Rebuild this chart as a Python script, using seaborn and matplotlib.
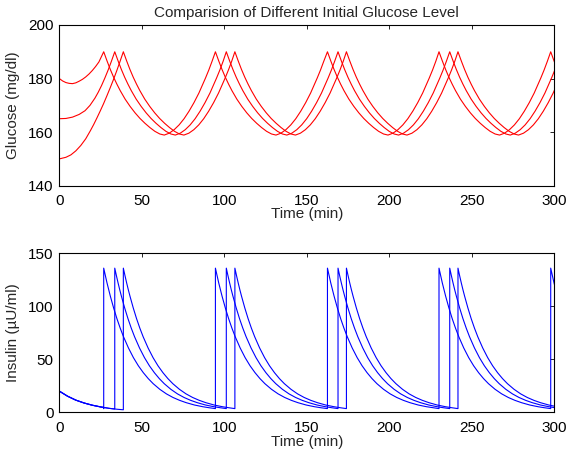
import numpy as np
import pandas as pd
import matplotlib
matplotlib.use('Agg')
import matplotlib.pyplot as plt
import seaborn as sns

# glucose: one repeating cycle (minutes after a peak, mg/dl)
cycle_u = [0, 2, 4, 6, 8, 10, 13, 16, 19, 22, 25, 28, 31, 34, 36.7,
           39.7, 42.7, 45.7, 48.7, 51.7, 54.7, 57.7, 59.7, 61.7, 63.7, 65.7]
cycle_glucose = [190.0, 186.6, 183.4, 180.5, 177.9, 175.5, 172.3, 169.6, 167.2,
                 165.1, 163.3, 161.7, 160.3, 159.3, 158.9, 159.6, 160.9, 162.7,
                 165.0, 167.8, 171.0, 174.6, 177.4, 180.2, 183.2, 186.5]

# insulin: one cycle (foot of the jump, then decay)
ins_u = [0, 0, 1, 2, 3, 4, 6, 8, 10, 12, 15, 18, 21, 24, 27, 30, 34, 38,
         42, 46, 50, 55, 60, 64, 67.7]
ins_cycle = [3.5, 136.0, 128.9, 122.1, 115.7, 109.7, 98.5, 88.4, 79.4, 71.3,
             60.7, 51.6, 43.9, 37.4, 31.8, 27.0, 21.7, 17.4, 14.0, 11.3, 9.1,
             6.9, 5.3, 4.3, 3.5]

# start of each run, before the first peak
t_start_a = [0, 2, 4, 6, 8, 10, 12, 14, 16, 18, 20, 22, 24, 26]
g_start_a = [180.0, 179.1, 178.5, 178.2, 178.1, 178.4, 179.0, 179.7, 180.6,
             181.7, 183.0, 184.5, 186.2, 188.8]
t_start_b = [0, 4, 8, 12, 15.6, 18.6, 21.6, 23.6, 25.6, 27.6, 29.6, 31.6]
g_start_b = [165.0, 165.1, 165.6, 166.6, 168.0, 170.0, 172.7, 174.9, 177.4,
             180.2, 183.2, 186.5]
t_start_c = [0, 4, 7, 10, 13, 16, 18.8, 20.8, 22.8, 24.8, 26.8, 28.8, 30.8,
             32.8, 34.8, 36.8]
g_start_c = [150.0, 150.6, 151.5, 153.0, 155.0, 157.5, 160.5, 162.8, 165.3,
             167.9, 170.6, 173.5, 176.5, 179.6, 182.9, 186.4]

ti_start_a = [0, 5, 10, 15, 20, 25, 26.9]
i_start_a = [20.0, 15.2, 11.5, 8.8, 6.7, 5.1, 4.5]
ti_start_b = [0, 5, 10, 15, 20, 25, 30, 33.6]
i_start_b = [20.0, 15.2, 11.5, 8.8, 6.7, 5.1, 3.8, 3.1]
ti_start_c = [0, 5, 10, 15, 20, 25, 30, 35, 38.8]
i_start_c = [20.0, 15.2, 11.5, 8.8, 6.7, 5.1, 3.8, 2.9, 2.4]

# times of the insulin doses (glucose hits 190)
peaks_a = [26.9, 94.6, 162.5, 230.1, 297.8]
peaks_b = [33.6, 101.2, 168.9, 236.6]
peaks_c = [38.8, 106.4, 174.0, 241.6]


def build_curve(t_init, v_init, peaks, cyc_u, cyc_v):
    t_out = list(t_init)
    v_out = list(v_init)
    for i, tp in enumerate(peaks):
        gap = peaks[i + 1] - tp if i + 1 < len(peaks) else np.inf
        for u, v in zip(cyc_u, cyc_v):
            if u < gap:
                t_out.append(tp + u)
                v_out.append(v)
    return pd.DataFrame({'time': t_out, 'value': v_out})


glucose_runs = [build_curve(t_start_a, g_start_a, peaks_a, cycle_u, cycle_glucose),
                build_curve(t_start_b, g_start_b, peaks_b, cycle_u, cycle_glucose),
                build_curve(t_start_c, g_start_c, peaks_c, cycle_u, cycle_glucose)]
insulin_runs = [build_curve(ti_start_a, i_start_a, peaks_a, ins_u, ins_cycle),
                build_curve(ti_start_b, i_start_b, peaks_b, ins_u, ins_cycle),
                build_curve(ti_start_c, i_start_c, peaks_c, ins_u, ins_cycle)]

sns.set_theme(style='white')
plt.rcParams['font.family'] = ['Liberation Sans', 'DejaVu Sans']
plt.rcParams['font.size'] = 10

fig = plt.figure(figsize=(5.66, 4.55), dpi=100)
ax1 = fig.add_axes([0.1048, 0.5919, 0.8746, 0.3532])
ax2 = fig.add_axes([0.1048, 0.0938, 0.8746, 0.3495])

for df in glucose_runs:
    sns.lineplot(data=df, x='time', y='value', ax=ax1, color=(1, 0, 0),
                 lw=0.8, estimator=None, sort=False)
for df in insulin_runs:
    sns.lineplot(data=df, x='time', y='value', ax=ax2, color=(0, 0, 1),
                 lw=0.8, estimator=None, sort=False)

ax1.set_xlim(0, 300)
ax1.set_ylim(140, 200)
ax1.set_yticks([140, 160, 180, 200])
ax2.set_xlim(0, 300)
ax2.set_ylim(0, 150)
ax2.set_yticks([0, 50, 100, 150])

for ax in (ax1, ax2):
    ax.set_xticks([0, 50, 100, 150, 200, 250, 300])
    ax.tick_params(direction='in', length=3, width=0.6, top=True, right=True,
                   labelsize=11, colors='black', pad=4)
    ax.tick_params(axis='x', pad=6)
    for sp in ax.spines.values():
        sp.set_visible(True)
        sp.set_color('black')
        sp.set_linewidth(0.8)
    ax.set_xlabel('Time (min)', fontsize=11)
    ax.xaxis.set_label_coords(0.5, -0.13)
    ax.xaxis.label.set_va('top')

ax1.set_ylabel('Glucose (mg/dl)', fontsize=11)
ax2.set_ylabel('Insulin (\u00b5U/ml)', fontsize=11)
ax1.yaxis.set_label_coords(-0.079, 0.5)
ax2.yaxis.set_label_coords(-0.079, 0.5)
ax2.xaxis.set_label_coords(0.5, -0.145)
ax1.set_title('Comparision of Different Initial Glucose Level', fontsize=11, pad=6)

plt.savefig('out.png', dpi=100)
